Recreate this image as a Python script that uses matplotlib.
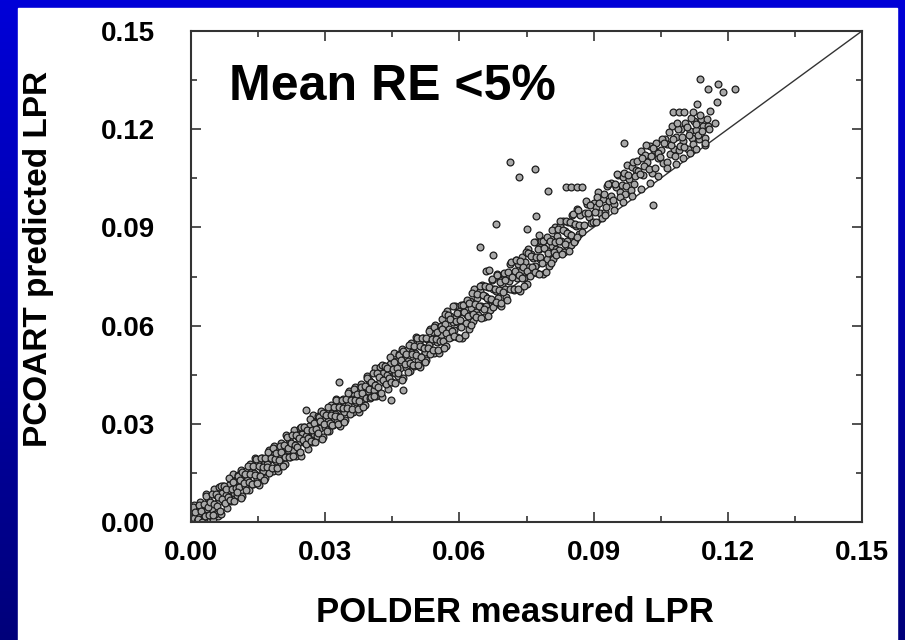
import matplotlib.pyplot as plt
import numpy as np
from matplotlib.colors import LinearSegmentedColormap
from matplotlib.ticker import MultipleLocator

plt.rcParams['font.family'] = ['Liberation Sans', 'DejaVu Sans']

# LPR values, in units of 1e-4
# measured (x) / predicted (y), by stretch of the band
meas_origin = [5, 10, 2, 14, 20, 8, 25, 35, 50, 60, 1, 18, 0, 0, 3, 7, 12, 4, 9, 15, 22, 28, 0, 6]
pred_origin = [8, 15, 25, 3, 30, 40, 12, 5, 10, 18, 2, 48, 0, 5, 8, 20, 10, 30, 2, 22, 14, 35, 45, 0]

meas_a = [0, 3, 6, 9, 12, 15, 18, 21, 24, 27, 30, 33, 36, 39, 42, 45, 48, 51, 54, 57,
          60, 63, 66, 69, 72, 75, 78, 81, 84, 87, 90, 93, 96, 99]
pred_a = [17, 2, 52, 6, 44, 4, 26, 62, 8, 50, 1, 85, 39, 74, 20, 59, 39, 100, 23, 84,
          60, 106, 23, 89, 110, 62, 83, 44, 114, 98, 65, 147, 90, 124]

meas_a2 = [1, 4, 7, 10, 13, 16, 19, 22, 25, 28, 31, 34, 37, 40, 43, 46, 49, 52, 55, 58,
           61, 64, 67, 70, 73, 76, 79, 82, 85, 88, 91, 94, 97, 100]
pred_a2 = [3, 47, 13, 32, 2, 10, 52, 34, 1, 55, 18, 80, 46, 20, 61, 87, 22, 54, 86, 49,
           76, 33, 111, 69, 110, 59, 102, 77, 134, 66, 101, 121, 64, 105]

meas_b = [102, 105, 108, 111, 114, 117, 120, 123, 126, 129, 132, 135, 138, 141, 144, 147, 150, 153, 156, 159,
          162, 165, 168, 171, 174, 177, 180, 183, 186, 189, 192, 195, 198, 201, 204, 207, 210, 213, 216, 219,
          222, 225, 228, 231, 234, 237, 240, 243, 246, 249, 252, 255, 258, 261, 264, 267, 270, 273, 276, 279,
          282, 285, 288, 291, 294, 297, 300, 303, 306, 309, 312, 315, 318, 321, 324, 327, 330, 333, 336, 339,
          342, 345, 348, 351, 354, 357, 360, 363, 366, 369, 372, 375, 378, 381, 384, 387, 390, 393, 396, 399]
pred_b = [83, 145, 106, 159, 79, 133, 109, 157, 128, 99, 177, 154, 115, 150, 195, 132, 179, 114, 169, 195,
          155, 133, 192, 177, 221, 157, 197, 155, 232, 186, 224, 155, 206, 242, 188, 230, 176, 265, 219, 254,
          200, 239, 219, 280, 203, 264, 240, 286, 203, 269, 290, 242, 263, 224, 294, 278, 245, 327, 270, 304,
          263, 325, 286, 339, 259, 313, 289, 337, 308, 279, 357, 334, 295, 330, 375, 312, 359, 294, 349, 375,
          335, 313, 372, 357, 401, 337, 377, 335, 412, 366, 404, 335, 386, 422, 368, 410, 356, 445, 399, 434]

meas_b2 = [103, 106, 109, 112, 115, 118, 121, 124, 127, 130, 133, 136, 139, 142, 145, 148, 151, 154, 157, 160,
           163, 166, 169, 172, 175, 178, 181, 184, 187, 190, 193, 196, 199, 202, 205, 208, 211, 214, 217, 220,
           223, 226, 229, 232, 235, 238, 241, 244, 247, 250, 253, 256, 259, 262, 265, 268, 271, 274, 277, 280,
           283, 286, 289, 292, 295, 298, 301, 304, 307, 310, 313, 316, 319, 322, 325, 328, 331, 334, 337, 340,
           343, 346, 349, 352, 355, 358, 361, 364, 367, 370, 373, 376, 379, 382, 385, 388, 391, 394, 397, 400]
pred_b2 = [92, 141, 128, 74, 154, 118, 146, 97, 172, 122, 146, 117, 171, 145, 192, 118, 172, 140, 194, 168,
           127, 195, 167, 214, 150, 194, 164, 227, 193, 212, 165, 190, 232, 214, 170, 235, 198, 260, 226, 200,
           241, 267, 202, 234, 266, 229, 256, 213, 291, 249, 290, 239, 282, 257, 314, 246, 281, 301, 244, 285,
           272, 321, 308, 254, 334, 298, 326, 277, 352, 302, 326, 297, 351, 325, 372, 298, 352, 320, 374, 348,
           307, 375, 347, 394, 330, 374, 344, 407, 373, 392, 345, 370, 412, 394, 350, 415, 378, 440, 406, 380]

meas_c = [402, 405, 408, 411, 414, 417, 420, 423, 426, 429, 432, 435, 438, 441, 444, 447, 450, 453, 456, 459,
          462, 465, 468, 471, 474, 477, 480, 483, 486, 489, 492, 495, 498, 501, 504, 507, 510, 513, 516, 519,
          522, 525, 528, 531, 534, 537, 540, 543, 546, 549, 552, 555, 558]
pred_c = [382, 425, 403, 469, 384, 451, 424, 475, 383, 456, 478, 425, 448, 405, 482, 464, 427, 517, 454, 491,
          446, 513, 470, 528, 440, 499, 472, 525, 493, 461, 546, 520, 477, 515, 565, 495, 546, 475, 535, 563,
          519, 494, 559, 542, 590, 520, 563, 517, 601, 550, 592, 516, 571]

meas_c2 = [403, 406, 409, 412, 415, 418, 421, 424, 427, 430, 433, 436, 439, 442, 445, 448, 451, 454, 457, 460,
           463, 466, 469, 472, 475, 478, 481, 484, 487, 490, 493, 496, 499, 502, 505, 508, 511, 514, 517, 520,
           523, 526, 529, 532, 535, 538, 541, 544, 547, 550, 553, 556, 559]
pred_c2 = [427, 456, 384, 419, 454, 412, 442, 394, 480, 433, 478, 422, 469, 441, 504, 428, 467, 489, 425, 470,
           455, 509, 494, 434, 523, 483, 513, 458, 541, 486, 512, 479, 539, 510, 562, 479, 539, 503, 563, 533,
           488, 563, 531, 583, 512, 560, 526, 596, 558, 579, 526, 554, 600]

meas_d = [561, 564, 567, 570, 573, 576, 579, 582, 585, 588, 591, 594, 597, 600, 603, 606, 609, 612, 615, 618,
          621, 624, 627, 630, 633, 636, 639, 642, 645, 648, 651, 654, 657, 660, 663, 666, 669, 672, 675, 678,
          681, 684, 687, 690, 693, 696, 699, 702, 705, 708, 711, 714, 717, 720, 723, 726, 729, 732, 735, 738,
          741, 744, 747, 750, 753, 756, 759, 762, 765, 768, 771, 774, 777, 780, 783, 786, 789, 792, 795, 798,
          801, 804, 807, 810, 813, 816, 819, 822, 825, 828, 831, 834, 837, 840, 843, 846, 849, 852, 855, 858,
          861, 864, 867, 870]
pred_d = [619, 554, 604, 538, 644, 589, 630, 565, 611, 586, 659, 566, 638, 609, 664, 563, 642, 667, 608, 633,
          591, 674, 654, 614, 712, 643, 683, 633, 707, 660, 723, 626, 690, 661, 718, 682, 647, 740, 712, 664,
          706, 759, 683, 739, 660, 726, 756, 713, 686, 756, 737, 789, 712, 759, 708, 800, 744, 789, 706, 767,
          809, 744, 794, 728, 834, 779, 820, 760, 806, 781, 854, 761, 833, 804, 859, 758, 837, 862, 803, 828,
          781, 864, 844, 804, 902, 833, 873, 831, 905, 858, 921, 824, 888, 859, 916, 880, 845, 938, 910, 862,
          904, 957, 881, 937]

meas_d2 = [562, 565, 568, 571, 574, 577, 580, 583, 586, 589, 592, 595, 598, 601, 604, 607, 610, 613, 616, 619,
           622, 625, 628, 631, 634, 637, 640, 643, 646, 649, 652, 655, 658, 661, 664, 667, 670, 673, 676, 679,
           682, 685, 688, 691, 694, 697, 700, 703, 706, 709, 712, 715, 718, 721, 724, 727, 730, 733, 736, 739,
           742, 745, 748, 751, 754, 757, 760, 763, 766, 769, 772, 775, 778, 781, 784, 787, 790, 793, 796, 799,
           802, 805, 808, 811, 814, 817, 820, 823, 826, 829, 832, 835, 838, 841, 844, 847, 850, 853, 856, 859,
           862, 865, 868]
pred_d2 = [590, 532, 635, 578, 631, 563, 619, 585, 660, 568, 614, 640, 563, 616, 597, 662, 643, 570, 677, 628,
           668, 602, 701, 634, 665, 625, 696, 661, 722, 622, 694, 650, 721, 685, 630, 719, 680, 742, 656, 713,
           672, 755, 709, 734, 670, 703, 762, 738, 678, 763, 713, 795, 748, 712, 766, 800, 713, 754, 796, 745,
           780, 722, 825, 768, 821, 753, 814, 780, 855, 763, 809, 835, 758, 811, 792, 857, 838, 765, 872, 823,
           858, 792, 891, 824, 855, 815, 894, 859, 920, 820, 892, 848, 919, 883, 828, 917, 878, 940, 854, 911,
           870, 953, 907]

meas_e = [875, 880, 885, 890, 895, 900, 905, 910, 915, 920, 925, 930, 935, 940, 945, 950, 955, 960, 965, 970,
          975, 980, 985, 990, 995, 1000, 1005, 1010, 1015, 1020, 1025, 1030, 1035, 1040, 1045, 1050, 1055, 1060,
          1065, 1070, 1075, 1080, 1085, 1090, 1095, 1100, 1105, 1110, 1115, 1120, 1125, 1130, 1135, 1140, 1145,
          1150, 1155, 1160]
pred_e = [886, 943, 971, 933, 913, 974, 961, 1007, 945, 987, 947, 1026, 982, 1037, 970, 1023, 1061, 1009, 1053, 1001,
          1092, 1048, 1085, 1033, 1074, 1071, 1134, 1059, 1122, 1100, 1148, 1067, 1135, 1158, 1112, 1135, 1098, 1170,
          1156, 1125, 1209, 1139, 1175, 1136, 1200, 1163, 1218, 1140, 1196, 1174, 1224, 1197, 1170, 1230, 1209,
          1172, 1209, 1256]

meas_e2 = [878, 883, 888, 893, 898, 903, 908, 913, 918, 923, 928, 933, 938, 943, 948, 953, 958, 963, 968, 973,
           978, 983, 988, 993, 998, 1003, 1008, 1013, 1018, 1023, 1028, 1033, 1038, 1043, 1048, 1053, 1058, 1063,
           1068, 1073, 1078, 1083, 1088, 1093, 1098, 1103, 1108, 1113, 1118, 1123, 1128, 1133, 1138, 1143, 1148,
           1153, 1158]
pred_e2 = [908, 980, 944, 967, 916, 946, 994, 976, 929, 1002, 963, 1034, 997, 985, 1032, 1063, 993, 1030, 1067, 1027,
           1059, 1013, 1101, 1056, 1103, 1064, 1113, 1087, 1152, 1078, 1119, 1143, 1081, 1128, 1115, 1171, 1158, 1100,
           1191, 1153, 1170, 1117, 1202, 1149, 1177, 1146, 1208, 1181, 1235, 1154, 1216, 1182, 1244, 1196, 1153,
           1230, 1200]

meas_edge = [905, 925, 945, 965, 985, 1005, 1025, 1045, 1065, 1085, 1100, 1115, 1130, 1150]
pred_edge = [915, 938, 952, 978, 995, 1018, 1035, 1058, 1080, 1095, 1112, 1128, 1140, 1158]

meas_out = [257, 330, 446, 475, 712, 770, 734, 797, 838, 850, 862, 874, 681, 645, 674, 660, 666, 750,
            772, 777, 1033, 967, 1087, 1078, 1090, 1101, 1123, 1138, 1156, 1179, 1190, 1176, 1132, 1172, 1217]
pred_out = [343, 429, 373, 404, 1099, 1077, 1053, 1010, 1023, 1023, 1023, 1023, 909, 839, 817, 767, 769, 894,
            934, 878, 967, 1158, 1220, 1252, 1252, 1252, 1252, 1353, 1322, 1338, 1313, 1283, 1276, 1220, 1322]

one_to_one = [0.0, 0.15]
ticks = [0.0, 0.03, 0.06, 0.09, 0.12, 0.15]
tick_labels = ['0.00', '0.03', '0.06', '0.09', '0.12', '0.15']

meas = np.array(meas_origin + meas_a + meas_a2 + meas_b + meas_b2 + meas_c + meas_c2
                + meas_d + meas_d2 + meas_e + meas_e2 + meas_edge + meas_out) * 1e-4
pred = np.array(pred_origin + pred_a + pred_a2 + pred_b + pred_b2 + pred_c + pred_c2
                + pred_d + pred_d2 + pred_e + pred_e2 + pred_edge + pred_out) * 1e-4

fig = plt.figure(figsize=(9.05, 6.4), dpi=100)

# slide background: blue gradient with a white panel
bg = fig.add_axes([0, 0, 1, 1])
slide = LinearSegmentedColormap.from_list('slide', ['#0000d8', '#00007a'])
bg.imshow(np.linspace(0, 1, 256).reshape(-1, 1), aspect='auto', cmap=slide, extent=[0, 1, 0, 1])
bg.add_patch(plt.Rectangle((18 / 905, 0), 879 / 905, 632 / 640, color='white'))
bg.set_xlim(0, 1)
bg.set_ylim(0, 1)
bg.axis('off')

ax = fig.add_axes([191 / 905, 118 / 640, 671 / 905, 491 / 640])
ax.plot(one_to_one, one_to_one, color='#333333', lw=1.0, zorder=1)
ax.scatter(meas, pred, s=24, facecolors='#a8a8a8', edgecolors='#1c1c1c', linewidths=0.9, zorder=2)

ax.set_xlim(0, 0.15)
ax.set_ylim(0, 0.15)
ax.set_xticks(ticks)
ax.set_xticklabels(tick_labels)
ax.set_yticks(ticks)
ax.set_yticklabels(tick_labels)
ax.xaxis.set_minor_locator(MultipleLocator(0.015))
ax.yaxis.set_minor_locator(MultipleLocator(0.015))
ax.tick_params(which='both', direction='in', top=True, right=True, color='#333333', width=1.2)
ax.tick_params(which='major', length=7, labelsize=20)
ax.tick_params(which='minor', length=4)
ax.tick_params(axis='x', pad=13)
ax.tick_params(axis='y', pad=26)
for lab in ax.get_xticklabels() + ax.get_yticklabels():
    lab.set_fontweight('bold')
for sp in ax.spines.values():
    sp.set_color('#333333')
    sp.set_linewidth(1.5)

ax.text(0.0085, 0.1328, 'Mean RE <5%', fontsize=36, fontweight='bold', ha='left', va='center')

fig.text(38 / 905, 1 - 259 / 640, 'PCOART predicted LPR', rotation=90, fontsize=24,
         fontweight='bold', ha='center', va='center')
fig.text(515 / 905, 1 - 612 / 640, 'POLDER measured LPR', fontsize=25,
         fontweight='bold', ha='center', va='center')

fig.savefig('out.png', dpi=100)
